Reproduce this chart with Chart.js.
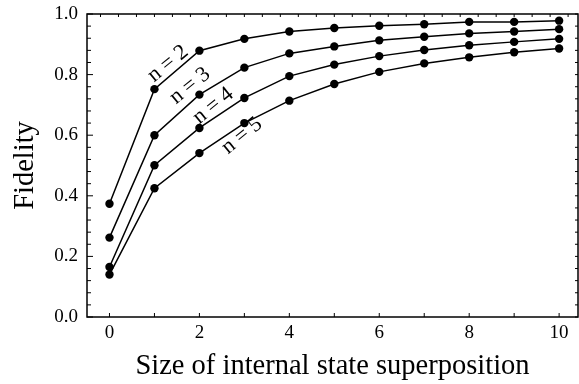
<!DOCTYPE html>
<html>
<head>
<meta charset="utf-8">
<script src="https://cdn.jsdelivr.net/npm/chart.js@4.4.0/dist/chart.umd.min.js"></script>
<style>
  html, body { margin: 0; padding: 0; background: #fff; }
  #wrap { width: 579px; height: 384px; position: relative; }
</style>
</head>
<body>
<div id="wrap"><canvas id="fidelity-chart"></canvas></div>
<script>
// values
var sizes = [0, 1, 2, 3, 4, 5, 6, 7, 8, 9, 10];
var fidelityN2 = [0.374, 0.752, 0.879, 0.918, 0.942, 0.954, 0.961, 0.966, 0.974, 0.974, 0.978];
var fidelityN3 = [0.262, 0.600, 0.734, 0.823, 0.870, 0.893, 0.913, 0.925, 0.936, 0.942, 0.950];
var fidelityN4 = [0.165, 0.501, 0.624, 0.723, 0.795, 0.833, 0.861, 0.881, 0.897, 0.908, 0.918];
var fidelityN5 = [0.140, 0.425, 0.541, 0.640, 0.714, 0.769, 0.809, 0.837, 0.857, 0.874, 0.886];
var seriesNames = ["n = 2", "n = 3", "n = 4", "n = 5"];
var xTickValues = [0, 2, 4, 6, 8, 10];
var yTickValues = [0.0, 0.2, 0.4, 0.6, 0.8, 1.0];

var serif = "'Liberation Serif', 'DejaVu Serif', serif";

function toPoints(ys) {
  return sizes.map(function(x, i) { return { x: x, y: ys[i] }; });
}

function lineSet(label, ys) {
  return {
    label: label,
    data: toPoints(ys),
    showLine: true,
    borderColor: "#000",
    backgroundColor: "#000",
    borderWidth: 1.5,
    pointRadius: 4.2,
    pointBorderWidth: 0,
    tension: 0,
    clip: false
  };
}

function noOverhang(s) {
  s.paddingTop = 0; s.paddingBottom = 0;
  s.paddingLeft = 0; s.paddingRight = 0;
}

// frame, inward tick marks and the rotated n labels
var framePlugin = {
  id: "frame",
  afterDatasetsDraw: function(chart) {
    var ctx = chart.ctx, a = chart.chartArea;
    var xs = chart.scales.x, ys = chart.scales.y;
    ctx.save();
    ctx.strokeStyle = "#000";
    ctx.lineWidth = 1.5;
    ctx.strokeRect(a.left, a.top, a.right - a.left, a.bottom - a.top);
    ctx.lineWidth = 1;
    ctx.beginPath();
    var v, px, py, len;
    for (v = 0; v <= 10; v++) {
      px = xs.getPixelForValue(v);
      ctx.moveTo(px, a.bottom); ctx.lineTo(px, a.bottom - 4);
    }
    for (v = -0.2; v < 10.4; v += 0.4) {
      px = xs.getPixelForValue(v);
      ctx.moveTo(px, a.top); ctx.lineTo(px, a.top + 3);
    }
    for (var k = 0; k <= 25; k++) {
      v = k * 0.04;
      py = ys.getPixelForValue(v);
      len = (k % 5 === 0) ? 6 : 4;
      ctx.moveTo(a.left, py); ctx.lineTo(a.left + len, py);
      ctx.moveTo(a.right, py); ctx.lineTo(a.right - 3, py);
    }
    ctx.stroke();

    var spots = [[1.30, 0.836], [1.79, 0.763], [2.31, 0.697], [2.95, 0.598]];
    ctx.fillStyle = "#000";
    ctx.font = "22px " + serif;
    ctx.textAlign = "center";
    ctx.textBaseline = "middle";
    seriesNames.forEach(function(name, i) {
      ctx.save();
      ctx.translate(xs.getPixelForValue(spots[i][0]), ys.getPixelForValue(spots[i][1]));
      ctx.rotate(-39 * Math.PI / 180);
      ctx.fillText(name, 0, 0);
      ctx.restore();
    });
    ctx.restore();
  }
};

var ctx = document.getElementById("fidelity-chart");
var fidelityChart = new Chart(ctx, {
  type: "scatter",
  data: {
    datasets: [
      lineSet(seriesNames[0], fidelityN2),
      lineSet(seriesNames[1], fidelityN3),
      lineSet(seriesNames[2], fidelityN4),
      lineSet(seriesNames[3], fidelityN5)
    ]
  },
  options: {
    responsive: true,
    maintainAspectRatio: false,
    animation: false,
    layout: { autoPadding: false, padding: { top: 14, right: 1, left: 0, bottom: 0 } },
    plugins: { legend: { display: false }, tooltip: { enabled: false } },
    scales: {
      x: {
        type: "linear",
        min: -0.5,
        max: 10.42,
        grid: { display: false, drawTicks: false },
        border: { display: false },
        afterBuildTicks: function(s) { s.ticks = xTickValues.map(function(v) { return { value: v }; }); },
        afterFit: function(s) { s.height = 67; noOverhang(s); },
        ticks: {
          padding: 5,
          maxRotation: 0,
          color: "#000",
          font: { family: serif, size: 19 },
          callback: function(v) { return String(v); }
        },
        title: {
          display: true,
          text: "Size of internal state superposition",
          color: "#000",
          font: { family: serif, size: 28.5 },
          padding: { top: 0, bottom: 0 }
        }
      },
      y: {
        min: 0,
        max: 1,
        grid: { display: false, drawTicks: false },
        border: { display: false },
        afterBuildTicks: function(s) { s.ticks = yTickValues.map(function(v) { return { value: v }; }); },
        afterFit: function(s) { s.width = 87; noOverhang(s); },
        ticks: {
          padding: 9,
          color: "#000",
          font: { family: serif, size: 19 },
          callback: function(v) { return Number(v).toFixed(1); }
        },
        title: {
          display: true,
          text: "Fidelity",
          color: "#000",
          font: { family: serif, size: 28.5 },
          padding: { top: 8, bottom: 0 }
        }
      }
    }
  },
  plugins: [framePlugin]
});
</script>
</body>
</html>
